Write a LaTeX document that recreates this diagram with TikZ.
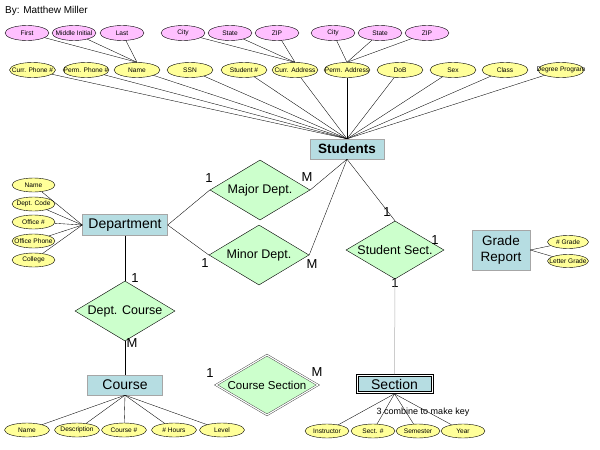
\documentclass[tikz,border=0pt]{standalone}
\usepackage{fontspec}
\setmainfont{Liberation Sans}
\usetikzlibrary{shapes.geometric}
\definecolor{attry}{RGB}{255,255,153}
\definecolor{attrp}{RGB}{255,192,255}
\definecolor{relg}{RGB}{204,255,204}
\definecolor{entb}{RGB}{182,221,226}
\newcommand{\zw}[1]{\makebox[0pt]{#1}}
\begin{document}
\begin{tikzpicture}[x=1pt,y=-1pt,
  attr/.style={ellipse, draw=black, line width=0.4pt, fill=attry, minimum width=46pt, minimum height=15pt, inner sep=0pt, font=\fontsize{6.6}{7}\selectfont},
  sub/.style={attr, fill=attrp, minimum width=44pt},
  sattr/.style={attr, minimum width=44pt, minimum height=14pt},
  ent/.style={rectangle, draw=gray!70, fill=entb, inner sep=0pt, font=\fontsize{14}{16}\selectfont},
  weakent/.style={rectangle, draw=black, line width=0.6pt, fill=white, inner sep=0pt, font=\fontsize{14}{16}\selectfont,
    path picture={\draw[black, line width=0.6pt, fill=entb] ([shift={(2.2pt,-2.2pt)}]path picture bounding box.north west) rectangle ([shift={(-2.2pt,2.2pt)}]path picture bounding box.south east);}},
  rel/.style={diamond, draw=black, line width=0.4pt, fill=relg, inner sep=0pt, minimum width=100pt, minimum height=60pt, font=\fontsize{12.5}{14}\selectfont},
  card/.style={inner sep=0pt, font=\fontsize{13}{15}\selectfont},
  con/.style={draw=black, line width=0.35pt}
]
\fill[white] (0,0) rectangle (600,450);
\useasboundingbox (0,0) rectangle (600,450);

\node[anchor=west, inner sep=0pt, font=\fontsize{10}{12}\selectfont] (by) at (5,11) {By: Matthew Miller};

% pink sub-attributes
\node[sub] (first) at (27,33) {\zw{First}};
\node[sub] (mi) at (74,33) {\zw{Middle Initial}};
\node[sub] (last) at (122,33) {\zw{Last}};
\node[sub] (c1) at (183,33) {\zw{City}};
\node[sub] (s1) at (230,33) {\zw{State}};
\node[sub] (z1) at (277,33) {\zw{ZIP}};
\node[sub] (c2) at (333,33) {\zw{City}};
\node[sub] (s2) at (380,33) {\zw{State}};
\node[sub] (z2) at (427,33) {\zw{ZIP}};

% student attributes
\node[attr] (cpn) at (32.5,70) {\zw{Curr. Phone \#}};
\node[attr] (ppn) at (86,70) {\zw{Perm. Phone \#}};
\node[attr] (sname) at (137,70) {\zw{Name}};
\node[attr] (ssn) at (190,70) {\zw{SSN}};
\node[attr] (sid) at (244,70) {\zw{Student \#}};
\node[attr] (cadd) at (295,70) {\zw{Curr. Address}};
\node[attr] (padd) at (347,70) {\zw{Perm. Address}};
\node[attr] (dob) at (400,70) {\zw{DoB}};
\node[attr] (sex) at (453,70) {\zw{Sex}};
\node[attr] (cls) at (505,70) {\zw{Class}};
\node[attr] (deg) at (561,70) {\zw{Degree Program}};

% entities
\node[ent, font=\bfseries\fontsize{13.5}{15}\selectfont, minimum width=74pt, minimum height=20pt] (stu) at (347,149) {Students};
\node[ent, minimum width=85pt, minimum height=21pt] (dept) at (125,225) {Department};
\node[ent, minimum width=75pt, minimum height=20pt] (course) at (125,385) {Course};
\node[weakent, minimum width=77pt, minimum height=19pt] (sec) at (394.5,384) {Section};
\node[ent, align=center, font=\fontsize{13.5}{15.5}\selectfont, minimum width=58pt, minimum height=40pt] (grade) at (501,250) {Grade\\Report};

% department attributes
\node[sattr, minimum width=43pt] (dn) at (33.5,185) {\zw{Name}};
\node[sattr, minimum width=43pt] (dc) at (33.5,204) {\zw{Dept. Code}};
\node[sattr, minimum width=43pt] (dof) at (33.5,222) {\zw{Office \#}};
\node[sattr, minimum width=43pt] (dph) at (33.5,241) {\zw{Office Phone}};
\node[sattr, minimum width=43pt] (dcol) at (33.5,260) {\zw{College}};

% course attributes
\node[sattr, minimum width=45pt] (cn) at (27,430) {\zw{Name}};
\node[sattr, minimum width=45pt] (cd) at (77,430) {\zw{Description}};
\node[sattr, minimum width=45pt] (cnum) at (124,430) {\zw{Course \#}};
\node[sattr, minimum width=45pt] (chr) at (174,430) {\zw{\# Hours}};
\node[sattr, minimum width=45pt] (clev) at (222,430) {\zw{Level}};

% section attributes
\node[sattr] (sin) at (327,431) {\zw{Instructor}};
\node[sattr] (snum) at (373,431) {\zw{Sect. \#}};
\node[sattr] (ssem) at (418,431) {\zw{Semester}};
\node[sattr] (syr) at (463,431) {\zw{Year}};
\node[inner sep=0pt, font=\fontsize{9}{10}\selectfont] (key) at (423,412) {3 combine to make key};

% grade attributes
\node[sattr, minimum width=41pt, minimum height=13pt] (gnum) at (568,242) {\zw{\# Grade}};
\node[sattr, minimum width=41pt, minimum height=13pt] (glet) at (568,261) {\zw{Letter Grade}};

% relationships
\node[rel] (major) at (260,190) {\zw{Major Dept.}};
\node[rel] (minor) at (259,255) {\zw{Minor Dept.}};
\node[rel, minimum width=98pt, minimum height=58pt] (ssect) at (395,250) {\zw{Student Sect.}};
\node[rel] (dcourse) at (125,311) {\zw{Dept. Course}};
\node[rel, draw=black!80, double=white, double distance=1.2pt, minimum width=102pt, minimum height=60pt, font=\fontsize{11.5}{13}\selectfont] (csec) at (267,385) {\zw{Course Section}};

% cardinalities
\node[card] (k1) at (209,178) {1};
\node[card] (k2) at (307,177) {M};
\node[card] (k3) at (205,263) {1};
\node[card] (k4) at (312,264) {M};
\node[card] (k5) at (387,212) {1};
\node[card] (k6) at (435,240) {1};
\node[card] (k7) at (395,283) {1};
\node[card] (k8) at (135,278) {1};
\node[card] (k9) at (132,343) {M};
\node[card] (k10) at (210,373) {1};
\node[card] (k11) at (317,372) {M};

% connectors: sub-attributes
\foreach \a in {first,mi,last} \draw[con] (\a) -- (sname.north);
\foreach \a in {c1,s1,z1} \draw[con] (\a) -- (cadd.north);
\foreach \a in {c2,s2,z2} \draw[con] (\a) -- (padd.north);
% student attributes
\foreach \a in {cpn,ppn,sname,ssn,sid,cadd,padd,dob,sex,cls,deg} \draw[con] (\a) -- (stu.north);
% department attributes
\foreach \a in {dn,dc,dof,dph,dcol} \draw[con] (\a) -- (dept.west);
% course attributes
\foreach \a in {cn,cd,cnum,chr,clev} \draw[con] (\a) -- (course.south);
% section attributes
\foreach \a in {sin,snum,ssem,syr} \draw[con] (\a) -- (sec.south);
% grade attributes
\foreach \a in {gnum,glet} \draw[con] (\a) -- (grade.east);
% relationships
\draw[con] (dept.east) -- (major.west);
\draw[con] (dept.east) -- (minor.west);
\draw[con] (major.east) -- (stu.south);
\draw[con] (minor.east) -- (stu.south);
\draw[con] (stu.south) -- (ssect.north);
\draw[draw=gray!60, line width=0.5pt] (ssect.south) -- (sec.north);
\draw[con] (dept.south) -- (dcourse.north);
\draw[con] (dcourse.south) -- (course.north);
\end{tikzpicture}
\end{document}
